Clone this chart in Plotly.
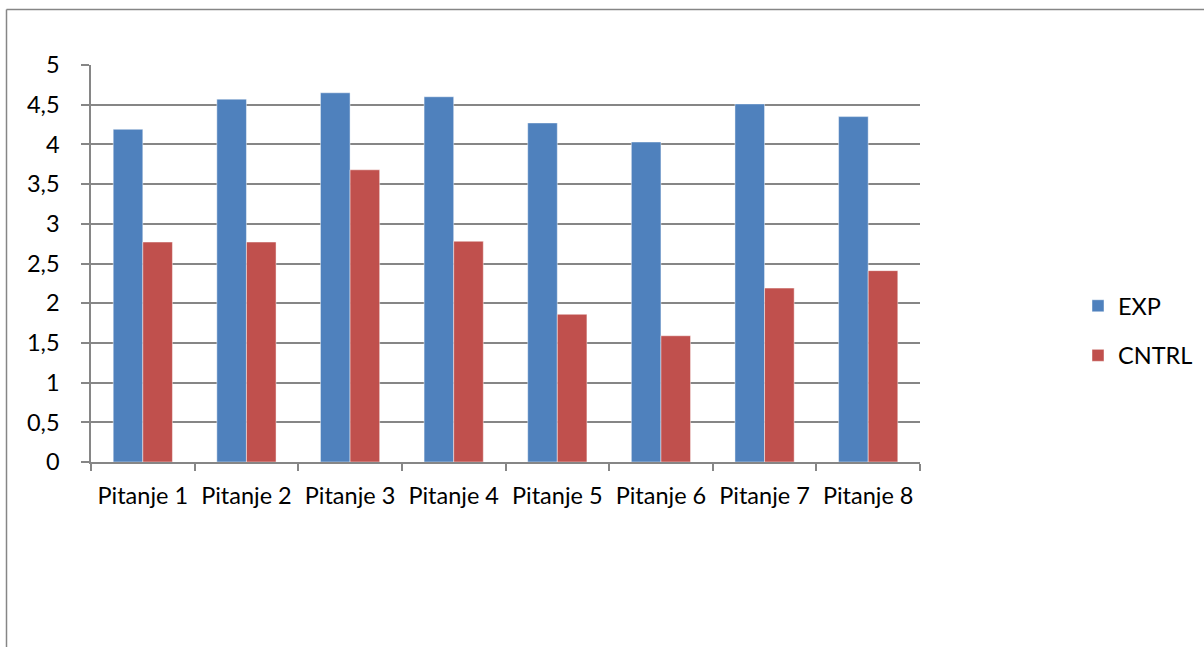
import plotly.graph_objects as go

categories = ["Pitanje 1", "Pitanje 2", "Pitanje 3", "Pitanje 4",
              "Pitanje 5", "Pitanje 6", "Pitanje 7", "Pitanje 8"]
exp_values = [4.19, 4.57, 4.65, 4.60, 4.27, 4.03, 4.51, 4.35]
cntrl_values = [2.77, 2.77, 3.68, 2.78, 1.86, 1.59, 2.19, 2.41]
y_ticks = [0, 0.5, 1, 1.5, 2, 2.5, 3, 3.5, 4, 4.5, 5]
y_tick_text = ["0", "0,5", "1", "1,5", "2", "2,5", "3", "3,5", "4", "4,5", "5"]

W, H = 1204, 647
L, R, T, B = 91, 284, 65, 185
pw = W - L - R
ph = H - T - B

def px_x(x):
    return (x - L) / pw

def px_y(y):
    return (H - B - y) / ph

fig = go.Figure()
fig.add_trace(go.Bar(name="EXP", x=categories, y=exp_values,
                     marker=dict(color="#4F81BD", line=dict(color="rgba(255,255,255,0.45)", width=1)),
                     legendgroup="a"))
fig.add_trace(go.Bar(name="CNTRL", x=categories, y=cntrl_values,
                     marker=dict(color="#C0504D", line=dict(color="rgba(255,255,255,0.45)", width=1)),
                     legendgroup="b"))

font_family = "Lato, 'Open Sans', sans-serif"
FS = 23.5

fig.update_layout(
    width=W, height=H,
    margin=dict(l=L, r=R, t=T, b=B, pad=0, autoexpand=False),
    paper_bgcolor="white", plot_bgcolor="white",
    barmode="group", bargap=0.4286, bargroupgap=0,
    font=dict(family=font_family, size=FS, color="black"),
    legend=dict(x=px_x(1078), y=px_y(284), xanchor="left", yanchor="top",
                font=dict(size=FS), tracegroupgap=16, traceorder="grouped",
                bgcolor="rgba(0,0,0,0)"),
    xaxis=dict(type="category", showline=True, linecolor="#868686", linewidth=1.5,
               ticks="outside", tickson="boundaries", ticklen=7, tickcolor="#868686",
               tickwidth=1.5, showgrid=False, tickfont=dict(size=FS), ticklabelstandoff=12),
    yaxis=dict(range=[0, 5], tickvals=y_ticks, ticktext=y_tick_text,
               showline=True, linecolor="#868686", linewidth=1.5,
               ticks="outside", ticklen=8, tickcolor="#868686", tickwidth=1.5,
               showgrid=True, gridcolor="#868686", gridwidth=1.5,
               zeroline=False, tickfont=dict(size=FS), ticklabelstandoff=17),
    shapes=[
        dict(type="line", xref="paper", yref="paper",
             x0=px_x(6.5), x1=px_x(1210), y0=px_y(9.5), y1=px_y(9.5),
             line=dict(color="#868686", width=1.5)),
        dict(type="line", xref="paper", yref="paper",
             x0=px_x(6.5), x1=px_x(6.5), y0=px_y(9.5), y1=px_y(660),
             line=dict(color="#868686", width=1.5)),
    ],
)

fig.write_html("out.html")
